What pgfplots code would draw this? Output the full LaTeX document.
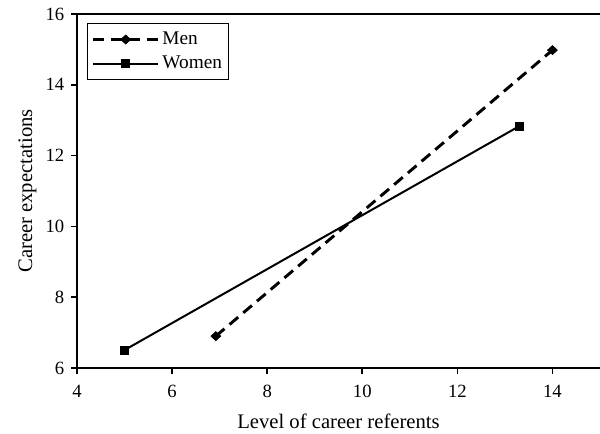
\documentclass[border=0pt]{standalone}
\usepackage{fontspec}
\setmainfont{Liberation Serif}
\usepackage{pgfplots}
\pgfplotsset{compat=1.18}
\usetikzlibrary{calc}
\begin{document}
\begin{tikzpicture}
\begin{axis}[
  name=ax,
  scale only axis,
  width=392.25pt, height=265.5pt,
  xmin=4, xmax=15, ymin=6, ymax=16,
  xtick={4,6,8,10,12,14},
  ytick={6,8,10,12,14,16},
  axis x line=box, axis y line=left,
  axis line style={-, line width=1.2pt},
  tick align=outside, xtick pos=bottom, ytick pos=left,
  major tick length=4.5pt,
  tick style={line width=1.2pt, black},
  /pgf/number format/assume math mode=true,
  ticklabel style={font=\fontsize{14}{16}\selectfont},
  xticklabel style={yshift=-5pt},
  yticklabel style={xshift=-1.5pt},
  xlabel={Level of career referents},
  ylabel={Career expectations},
  xlabel style={font=\fontsize{15.5}{18}\selectfont, at={(axis description cs:0.5,-0.172)}, anchor=base},
  ylabel style={font=\fontsize{15.5}{18}\selectfont, at={(axis description cs:-0.086,0.5)}, rotate=0, anchor=base},
  legend style={at={(0.019,0.975)}, anchor=north west, draw=black, line width=1pt,
    font=\fontsize{14.5}{17}\selectfont, inner xsep=3pt, inner ysep=4.5pt, row sep=3pt},
  legend cell align=left,
  legend image code/.code={\draw[mark repeat=2, mark phase=2] plot coordinates {(0cm,0cm) (0.86cm,0cm) (1.72cm,0cm)};},
]
\addplot[black, line width=2.2pt, dash pattern=on 8.5pt off 5pt, mark=diamond*, mark size=3.4pt, mark options={solid, line width=0.5pt, xscale=1.45}]
  coordinates {(6.92,6.9) (14.0,14.98)};
\addlegendentry{Men}
\addplot[black, line width=1.5pt, mark=square*, mark size=3.1pt, mark options={line width=0.5pt}]
  coordinates {(4.99,6.5) (13.3,12.83)};
\addlegendentry{Women}
\end{axis}
\pgfresetboundingbox
\path ($(ax.south west)+(-57.75pt,-48.75pt)$) rectangle ($(ax.north east)+(0pt,10.5pt)$);
\end{tikzpicture}
\end{document}
